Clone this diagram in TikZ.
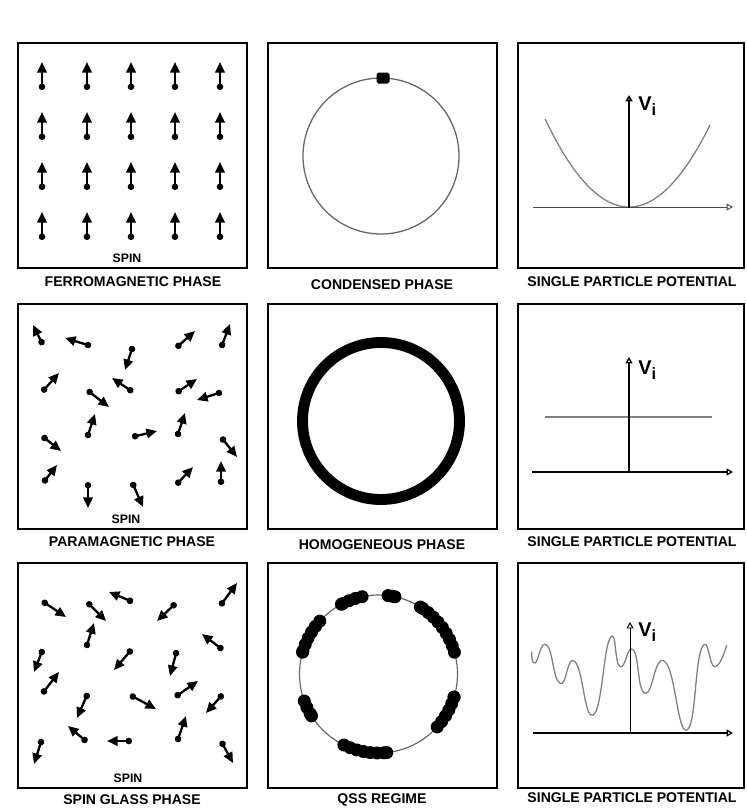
\documentclass[tikz,border=0pt]{standalone}
\usepackage{fontspec}
\setmainfont{Liberation Sans}
\usetikzlibrary{positioning, calc, arrows.meta}

\tikzset{
  panel/.style={line width=1.5pt},
  caption/.style={font=\bfseries\fontsize{12}{13}\selectfont},
  spinlabel/.style={font=\bfseries\fontsize{10.5}{11}\selectfont},
  spinarrow/.style={line width=2pt, {Circle[length=5.5pt]}-{Triangle[length=9pt,width=8pt]}},
  axis/.style={-{Triangle[open,length=5.5pt,width=6pt]}},
  potential/.style={gray, line width=1.1pt},
  vlabel/.style={anchor=west, inner sep=1pt, font=\bfseries\fontsize{17}{17}\selectfont},
}

\begin{document}
\begin{tikzpicture}[x=0.03cm, y=-0.03cm, >=stealth]
    \useasboundingbox (0,0) rectangle (746,810);

    % Panel frames
    \foreach \t/\b in {43/268, 304/529, 563/788} {
        \draw[panel] (18,\t) rectangle (247,\b);
        \draw[panel] (268,\t) rectangle (497,\b);
        \draw[panel] (518,\t) rectangle (744,\b);
    }

    % Ferromagnetic phase
    \foreach \x in {42,87,131,175,220}
        \foreach \y in {62,112,162,212}
            \draw[spinarrow] (\x,\y+28) -- (\x,\y);
    \node[spinlabel] (spin1) at (127,258) {SPIN};
    \node[caption] (cap11) at (133,282) {FERROMAGNETIC PHASE};

    % Paramagnetic phase
    \foreach \a/\b/\c/\d in {43/345/33/325, 91/346/65/338, 133/346/125/370,
        176/348/195/331, 221/348/230/324, 42/392/59/373, 133/392/112/378,
        87/390/109/407, 176/393/197/379, 222/392/197/400, 87/438/95/414,
        132/437/157/431, 177/437/185/413, 42/436/61/451, 221/437/237/457,
        43/483/57/465, 88/482/88/508, 132/482/143/507, 176/485/193/467,
        221/485/221/461}
        \draw[spinarrow] (\a,\b) -- (\c,\d);
    \node[spinlabel] (spin2) at (126,519) {SPIN};
    \node[caption] (cap21) at (132,542) {PARAMAGNETIC PHASE};

    % Spin glass phase
    \foreach \a/\b/\c/\d in {42/601/66/617, 87/602/106/621, 133/602/109/592,
        176/603/157/621, 220/606/237/583, 86/648/94/623, 223/650/202/634,
        43/649/34/672, 132/649/114/670, 177/650/170/676, 42/694/59/672,
        88/693/77/718, 130/695/156/709, 175/697/198/681, 223/694/206/713,
        87/742/68/726, 132/741/107/741, 177/742/186/716, 42/739/34/764,
        221/741/233/763}
        \draw[spinarrow] (\a,\b) -- (\c,\d);
    \node[spinlabel] (spin3) at (128,778) {SPIN};
    \node[caption] (cap31) at (132,800) {SPIN GLASS PHASE};

    % Condensed phase
    \draw[gray!80!black, line width=1.1pt] (381,156) circle (78);
    \fill[rounded corners=1.5pt] (376.5,72.5) rectangle (389.5,83.5);
    \node[caption] (cap12) at (382,285) {CONDENSED PHASE};

    % Homogeneous phase
    \draw[line width=9.3pt] (381,421) circle (78.5);
    \node[caption] (cap22) at (382,545) {HOMOGENEOUS PHASE};

    % QSS regime
    \coordinate (qss) at (378.5,674);
    \draw[gray!80!black, line width=1pt] (qss) circle (79);
    \foreach \s/\e in {102/118, 78/80, 16/58, 138/164, 200/212, 244/276, -42/-17} {
        \pgfmathtruncatemacro\n{\s+5}
        \foreach \a in {\s,\n,...,\e}
            \fill ($(qss)+(-\a:79)$) circle (6.5);
        \fill ($(qss)+(-\e:79)$) circle (6.5);
    }
    \node[caption] (cap32) at (382,800) {QSS REGIME};

    % Single particle potentials
    \draw[potential] plot[domain=-84:81, samples=60] ({629+\x},{207-0.0125*\x*\x});
    \draw[axis, gray!60!black, line width=0.8pt] (533,207) -- (733,207);
    \draw[axis, line width=1.4pt] (629,208) -- (629,95);
    \node[vlabel] (v1) at (637,106) {V\raisebox{-0.45ex}{\fontsize{14}{14}\selectfont i}};
    \node[caption] (cap13) at (632,282) {SINGLE PARTICLE POTENTIAL};

    \draw[potential] (545,417) -- (712,417);
    \draw[axis, line width=1.1pt] (532,472) -- (733,472);
    \draw[axis, line width=1.1pt] (629,472) -- (629,357);
    \node[vlabel] (v2) at (637,370) {V\raisebox{-0.45ex}{\fontsize{14}{14}\selectfont i}};
    \node[caption] (cap23) at (632,542) {SINGLE PARTICLE POTENTIAL};

    \draw[potential] plot[smooth, tension=0.9] coordinates {(531.7,651.7) (535,663)
        (546.7,645) (560,683.3) (575,661.7) (593.3,715) (610,638.3) (620,666.7)
        (633.3,650) (645,693.3) (665,661.7) (686.7,730) (701.7,648.3) (715,666.7)
        (726.7,645)};
    \draw[axis, line width=1.1pt] (533,733) -- (733,733);
    \draw[axis, line width=0.8pt] (630,733) -- (630,622);
    \node[vlabel] (v3) at (637,632) {V\raisebox{-0.45ex}{\fontsize{14}{14}\selectfont i}};
    \node[caption] (cap33) at (632,798) {SINGLE PARTICLE POTENTIAL};
\end{tikzpicture}
\end{document}
